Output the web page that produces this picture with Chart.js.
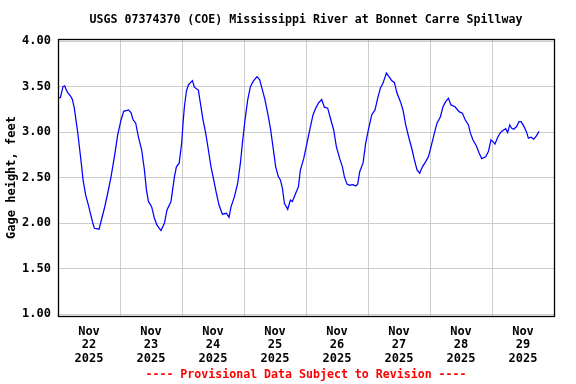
<!DOCTYPE html>
<html>
<head>
<meta charset="utf-8">
<script src="https://cdn.jsdelivr.net/npm/chart.js@4.4.1/dist/chart.umd.min.js"></script>
<style>
  body { margin: 0; background: #fff; }
  #wrap { width: 576px; height: 384px; }
</style>
</head>
<body>
<div id="wrap"><canvas id="chart" width="576" height="384"></canvas></div>
<script>
// hours since Nov 22 2025 00:00
const hours = [0.15, 0.93, 1.94, 2.6, 2.98, 3.75, 4.8, 5.57, 6.35, 7.12, 7.63, 8.4, 9.17, 9.68, 10.72, 11.77,
  12.54, 13.32, 14.09, 15.87, 16.65, 17.96, 19.24, 20.52, 21.83, 23.11, 24.39, 25.43, 26.71, 27.25, 28.26,
  29.03, 30.08, 31.12, 32.4, 33.45, 34.22, 35.0, 36.27, 37.32, 38.32, 39.87, 41.19, 42.19, 43.74, 45.06,
  45.83, 46.9, 47.88, 48.4, 48.93, 49.7, 50.48, 51.25, 52.03, 52.8, 54.35, 55.12, 56.13, 57.17, 58.22,
  59.23, 60.27, 61.32, 62.32, 63.64, 65.19, 66.19, 66.97, 68.28, 69.56, 70.6, 71.38, 72.39, 73.43, 74.48,
  75.48, 77.03, 78.08, 79.12, 80.13, 81.17, 82.22, 83.23, 84.27, 85.32, 86.09, 86.87, 87.64, 88.92, 89.96,
  90.74, 91.74, 93.06, 93.83, 95.11, 96.38, 97.7, 98.71, 99.75, 100.8, 102.08, 103.12, 104.4, 105.45,
  106.72, 107.77, 109.05, 110.09, 110.87, 111.87, 112.92, 114.19, 115.24, 116.01, 116.79, 118.06, 119.11,
  120.15, 121.43, 122.71, 123.76, 124.8, 125.81, 127.12, 128.13, 129.17, 130.22, 131.23, 132.54, 133.55,
  134.59, 135.87, 136.92, 137.96, 138.97, 140.01, 141.06, 142.34, 143.38, 144.39, 145.7, 146.71, 148.03,
  149.03, 150.08, 151.12, 152.13, 153.68, 155.23, 156.54, 157.55, 158.87, 159.64, 160.65, 161.96, 162.97,
  164.01, 165.56, 166.61, 167.61, 168.39, 169.16, 170.21, 171.25, 172.26, 173.3, 174.08, 174.85, 175.63,
  176.4, 177.45, 178.45, 179.23, 180.27, 181.32, 182.09, 183.1, 184.15, 185.19, 186.2];
const gageHeight = [3.38, 3.38, 3.50, 3.51, 3.48, 3.435, 3.40, 3.36, 3.26, 3.10, 3.00, 2.81, 2.62, 2.48, 2.31, 2.20,
  2.11, 2.02, 1.945, 1.935, 2.02, 2.165, 2.33, 2.51, 2.73, 2.97, 3.135, 3.23, 3.24, 3.245, 3.215,
  3.14, 3.10, 2.95, 2.805, 2.585, 2.37, 2.24, 2.18, 2.055, 1.98, 1.92, 2.00, 2.146, 2.24, 2.51,
  2.62, 2.66, 2.88, 3.10, 3.28, 3.45, 3.52, 3.545, 3.567, 3.495, 3.46, 3.32, 3.135, 2.99, 2.805,
  2.62, 2.476, 2.33, 2.20, 2.10, 2.11, 2.066, 2.18, 2.29, 2.44, 2.66, 2.88, 3.135, 3.355, 3.50,
  3.556, 3.61, 3.575, 3.465, 3.355, 3.21, 3.045, 2.84, 2.62, 2.51, 2.476, 2.385, 2.22, 2.154, 2.256,
  2.24, 2.31, 2.40, 2.585, 2.71, 2.88, 3.06, 3.19, 3.264, 3.32, 3.36, 3.275, 3.264, 3.154,
  3.025, 2.84, 2.71, 2.62, 2.51, 2.43, 2.418, 2.424, 2.41, 2.43, 2.567, 2.66, 2.88,
  3.025, 3.19, 3.245, 3.374, 3.484, 3.54, 3.65, 3.61, 3.567, 3.545, 3.43, 3.336, 3.245,
  3.08, 2.934, 2.824, 2.696, 2.586, 2.55, 2.62, 2.677, 2.73, 2.84, 2.99, 3.10, 3.17,
  3.28, 3.336, 3.374, 3.30, 3.28, 3.226, 3.21, 3.14, 3.08, 2.99, 2.915, 2.85, 2.776,
  2.71, 2.73, 2.787, 2.915, 2.897, 2.87, 2.945, 2.996, 3.02, 3.04, 2.996, 3.08, 3.044,
  3.033, 3.06, 3.116, 3.116, 3.07, 3.007, 2.934, 2.945, 2.923, 2.96, 3.01];

const monthLabel = 'Nov';
const dayLabels = ['22', '23', '24', '25', '26', '27', '28', '29'];
const yearLabel = '2025';
const yTicks = [1.00, 1.50, 2.00, 2.50, 3.00, 3.50, 4.00];

const mono = "'DejaVu Sans Mono', 'Liberation Mono', monospace";

// black frame round the plot
const framePlugin = {
  id: 'frame',
  afterDraw(chart) {
    const a = chart.chartArea, ctx = chart.ctx;
    ctx.save();
    ctx.strokeStyle = '#000';
    ctx.lineWidth = 1.3;
    ctx.strokeRect(Math.round(a.left) + 0.5, Math.round(a.top) + 0.5,
      Math.round(a.right - a.left), Math.round(a.bottom - a.top));
    ctx.restore();
  }
};

new Chart(document.getElementById('chart'), {
  type: 'line',
  data: {
    datasets: [{
      data: hours.map((h, i) => ({ x: h, y: gageHeight[i] })),
      borderColor: '#0000ff',
      borderWidth: 1.25,
      pointRadius: 0,
      tension: 0,
      fill: false
    }]
  },
  options: {
    responsive: false,
    animation: false,
    layout: { padding: { left: 0, right: 22, top: 0, bottom: 0 } },
    plugins: {
      legend: { display: false },
      tooltip: { enabled: false },
      title: {
        display: true,
        fullSize: false,
        text: 'USGS 07374370 (COE) Mississippi River at Bonnet Carre Spillway',
        color: '#000',
        font: { family: mono, size: 11.6, weight: 'bold' },
        padding: { top: 13, bottom: 12 }
      },
      subtitle: {
        display: true,
        fullSize: false,
        position: 'bottom',
        text: '---- Provisional Data Subject to Revision ----',
        color: '#ff0000',
        font: { family: mono, size: 11.6, weight: 'bold' },
        padding: { top: 4, bottom: 2 }
      }
    },
    scales: {
      x: {
        type: 'linear',
        min: 0,
        max: 192,
        afterFit(scale) { scale.height = 48; },
        afterBuildTicks(scale) {
          scale.ticks = [];
          for (let h = 0; h <= 192; h += 12) scale.ticks.push({ value: h });
        },
        border: { display: false },
        grid: {
          drawTicks: false,
          color: c => (c.tick && c.tick.value % 24 === 0) ? '#cccccc' : 'rgba(0,0,0,0)',
          lineWidth: 1
        },
        ticks: {
          autoSkip: false,
          maxRotation: 0,
          padding: 9,
          color: '#000',
          font: { family: mono, size: 12, weight: 'bold', lineHeight: 1.12 },
          callback: v => {
            if (v % 24 !== 12) return '';
            return [monthLabel, dayLabels[(v - 12) / 24], yearLabel];
          }
        }
      },
      y: {
        min: 0.981,
        max: 4.025,
        afterFit(scale) { scale.width = 58; },
        afterBuildTicks(scale) { scale.ticks = yTicks.map(v => ({ value: v })); },
        border: { display: false },
        grid: { drawTicks: false, color: '#cccccc', lineWidth: 1 },
        ticks: {
          padding: 7,
          color: '#000',
          font: { family: mono, size: 12, weight: 'bold' },
          callback: v => v.toFixed(2)
        },
        title: {
          display: true,
          text: 'Gage height, feet',
          color: '#000',
          font: { family: mono, size: 12, weight: 'bold' },
          padding: { top: 5, bottom: 0 }
        }
      }
    }
  },
  plugins: [framePlugin]
});
</script>
</body>
</html>
